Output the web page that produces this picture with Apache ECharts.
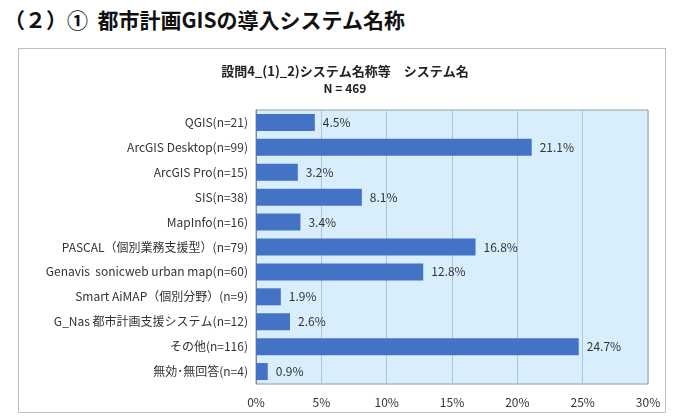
<!DOCTYPE html>
<html><head><meta charset="utf-8">
<script src="https://cdn.jsdelivr.net/npm/echarts@6/dist/echarts.min.js"></script>
<style>
body{margin:0;background:#fff;font-family:"Noto Sans CJK JP",sans-serif}
#title{position:absolute;left:4px;top:4px;font-size:21px;font-weight:bold;color:#111}
#frame{position:absolute;left:18px;top:48px;width:646px;height:363px;border:1px solid #bfbfbf}
#chart{position:absolute;left:0;top:0;width:680px;height:420px}
</style></head><body>
<div id="title">（２）①&nbsp; 都市計画GISの導入システム名称</div>
<div id="frame"></div>
<div id="chart"></div>
<script>
const categories = ['QGIS(n=21)', 'ArcGIS Desktop(n=99)', 'ArcGIS Pro(n=15)', 'SIS(n=38)', 'MapInfo(n=16)',
  'PASCAL（個別業務支援型）(n=79)', 'Genavis  sonicweb urban map(n=60)', 'Smart AiMAP（個別分野）(n=9)',
  'G_Nas 都市計画支援システム(n=12)', 'その他(n=116)', '無効･無回答(n=4)'];
const values = [4.5, 21.1, 3.2, 8.1, 3.4, 16.8, 12.8, 1.9, 2.6, 24.7, 0.9];

const chart = echarts.init(document.getElementById('chart'));
chart.setOption({
  animation: false,
  textStyle: { fontFamily: 'Noto Sans CJK JP' },
  title: {
    text: '設問4_(1)_2)システム名称等　システム名', subtext: 'N = 469',
    left: 340, top: 60, textAlign: 'center', itemGap: 4,
    textStyle: { fontSize: 13, fontWeight: 'bold', color: '#222' },
    subtextStyle: { fontSize: 12, fontWeight: 'bold', color: '#222' }
  },
  grid: { left: 256, right: 32, top: 110, bottom: 36, backgroundColor: '#d9eefc', show: true, borderColor: '#9a9a9a', borderWidth: 1 },
  xAxis: {
    type: 'value', min: 0, max: 30, interval: 5,
    axisLabel: { formatter: '{value}%', color: '#333', fontSize: 12, margin: 12 },
    splitLine: { lineStyle: { color: '#a9c6dd' } },
    axisLine: { show: false }, axisTick: { show: false }
  },
  yAxis: {
    type: 'category', inverse: true, data: categories,
    axisLabel: { color: '#333', fontSize: 12, margin: 8 },
    axisLine: { lineStyle: { color: '#888' } },
    axisTick: { lineStyle: { color: '#888' } }
  },
  series: [{
    type: 'bar', data: values, barWidth: 17,
    itemStyle: { color: '#4472c4' },
    label: { show: true, position: 'right', formatter: p => p.value.toFixed(1) + '%', color: '#333', fontSize: 12, distance: 8 }
  }]
});
</script></body></html>
